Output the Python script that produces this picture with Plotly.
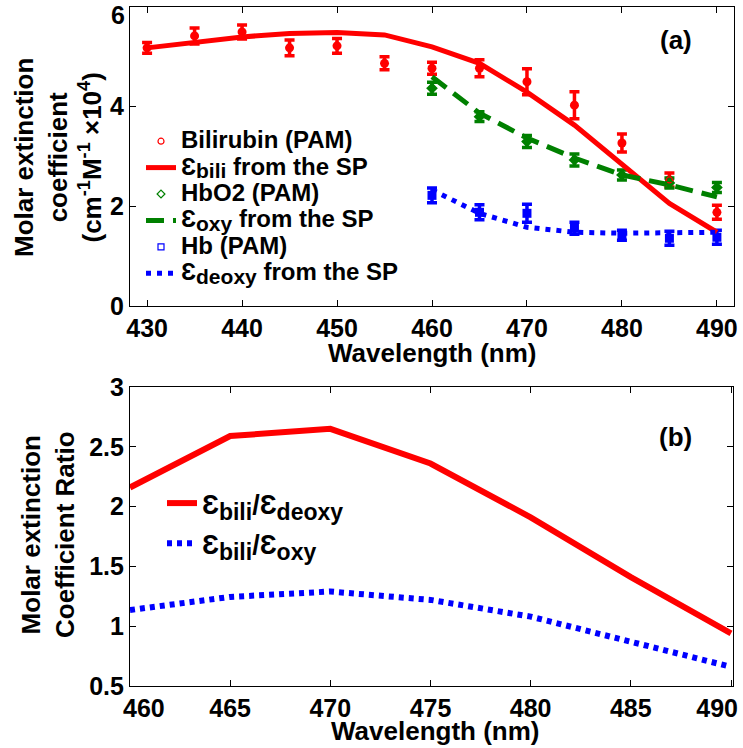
import plotly.graph_objects as go

# ---- panel (a): molar extinction coefficients (x10^4 cm^-1 M^-1) ----
wl_bili = [430, 435, 440, 445, 450, 455, 460, 465, 470, 475, 480, 485, 490]
bili_sp = [5.18, 5.28, 5.40, 5.47, 5.49, 5.44, 5.20, 4.87, 4.29, 3.63, 2.83, 2.06, 1.48]
bili_pam = [5.18, 5.42, 5.50, 5.18, 5.22, 4.87, 4.77, 4.77, 4.50, 4.03, 3.27, 2.53, 1.88]
bili_err = [0.11, 0.16, 0.14, 0.16, 0.15, 0.13, 0.12, 0.17, 0.26, 0.27, 0.18, 0.14, 0.14]

wl_hb = [460, 465, 470, 475, 480, 485, 490]
oxy_sp = [4.60, 3.87, 3.37, 2.97, 2.63, 2.43, 2.19]
oxy_pam = [4.37, 3.80, 3.30, 2.93, 2.63, 2.47, 2.38]
oxy_err = [0.12, 0.10, 0.12, 0.12, 0.10, 0.10, 0.10]
deoxy_sp = [2.33, 1.86, 1.58, 1.48, 1.46, 1.46, 1.48]
deoxy_pam = [2.22, 1.88, 1.86, 1.56, 1.42, 1.36, 1.38]
deoxy_err = [0.15, 0.15, 0.18, 0.12, 0.10, 0.14, 0.14]

# ---- panel (b): coefficient ratios ----
wl_ratio = [460, 465, 470, 475, 480, 485, 490]
ratio_bili_deoxy = [2.16, 2.59, 2.65, 2.36, 1.91, 1.41, 0.94]
ratio_bili_oxy = [1.135, 1.245, 1.29, 1.22, 1.08, 0.87, 0.66]

# tick labels
top_xticks = [430, 440, 450, 460, 470, 480, 490]
top_yticks = [0, 2, 4, 6]
top_ytext = ["0", "2", "4", ""]  # the "6" sits just below the frame top
bot_xticks = [460, 465, 470, 475, 480, 485, 490]
bot_yticks = [0.5, 1, 1.5, 2, 2.5, 3]
FSP = "\u2007"  # figure space, nudges the end labels inward
bot_xtext = [FSP * 2 + "460", "465", "470", "475", "480", "485", "490" + FSP * 2]

RED = "#ff0000"
GREEN = "#008000"
BLUE = "#0000ff"
FONT = "Liberation Sans, Arial, sans-serif"
EPS = "\u0190"


def big(txt, px):
    return f'<span style="font-size:{px}px">{txt}</span>'


def eps_label(sub, rest, px, subpx):
    return big(EPS, px) + "<sub>" + big(sub, subpx) + "</sub>" + big(rest, px)


fig = go.Figure()


def pam(x, y, err, color, symbol):
    # filled markers with error bars
    fig.add_trace(go.Scatter(
        x=x, y=y, mode="markers", showlegend=False,
        marker=dict(color=color, size=9, symbol=symbol),
        error_y=dict(type="data", array=err, color=color, thickness=3.5, width=5),
        xaxis="x", yaxis="y"))


def pam_legend(x, y, name, color, symbol):
    # small open outline on the same points, this one carries the legend entry
    fig.add_trace(go.Scatter(
        x=x, y=y, mode="markers", name=name, legend="legend",
        marker=dict(color=color, size=6, symbol=symbol, line=dict(color=color, width=1.2)),
        hoverinfo="skip", xaxis="x", yaxis="y"))


def sp_line(x, y, color, dash, name):
    fig.add_trace(go.Scatter(
        x=x, y=y, mode="lines", name=name, legend="legend",
        line=dict(color=color, width=5, dash=dash),
        xaxis="x", yaxis="y"))


LP, LS = 24, 21
pam(wl_bili, bili_pam, bili_err, RED, "circle")
pam(wl_hb, oxy_pam, oxy_err, GREEN, "diamond")
pam(wl_hb, deoxy_pam, deoxy_err, BLUE, "square")

pam_legend(wl_bili, bili_pam, big("Bilirubin (PAM)", LP), RED, "circle-open")
sp_line(wl_bili, bili_sp, RED, "solid", eps_label("bili", " from the SP", LP, LS))
pam_legend(wl_hb, oxy_pam, big("HbO2 (PAM)", LP), GREEN, "diamond-open")
sp_line(wl_hb, oxy_sp, GREEN, "18px,9px", eps_label("oxy", " from the SP", LP, LS))
pam_legend(wl_hb, deoxy_pam, big("Hb (PAM)", LP), BLUE, "square-open")
sp_line(wl_hb, deoxy_sp, BLUE, "5px,6px", eps_label("deoxy", " from the SP", LP, LS))

# ratio curves
RP, RS = 27, 23
fig.add_trace(go.Scatter(
    x=wl_ratio, y=ratio_bili_deoxy, mode="lines", legend="legend2",
    name=big(EPS, RP) + "<sub>" + big("bili", RS) + "</sub>" + big("/" + EPS, RP)
    + "<sub>" + big("deoxy", RS) + "</sub>",
    line=dict(color=RED, width=6), xaxis="x2", yaxis="y2"))
fig.add_trace(go.Scatter(
    x=wl_ratio, y=ratio_bili_oxy, mode="lines", legend="legend2",
    name=big(EPS, RP) + "<sub>" + big("bili", RS) + "</sub>" + big("/" + EPS, RP)
    + "<sub>" + big("oxy", RS) + "</sub>",
    line=dict(color=BLUE, width=6, dash="5px,5px"), xaxis="x2", yaxis="y2"))

W, H = 743, 748


def px_x(v):
    return v / W


def px_y(v):
    return 1 - v / H


tickfont = dict(family=FONT, size=25, color="black", weight="bold")
axis_common = dict(showline=True, linecolor="black", linewidth=1.2, mirror="ticks",
                   ticks="inside", ticklen=6, tickcolor="black", showgrid=False,
                   zeroline=False, tickfont=tickfont, ticklabeloverflow="allow")

fig.update_layout(
    width=W, height=H, margin=dict(l=0, r=0, t=0, b=0, autoexpand=False),
    paper_bgcolor="white", plot_bgcolor="white",
    font=dict(family=FONT, color="black"),
    xaxis=dict(domain=[px_x(130), px_x(734)], range=[428.2, 491.8],
               tickvals=top_xticks, anchor="y", **axis_common),
    yaxis=dict(domain=[px_y(306), px_y(7)], range=[0, 6],
               tickvals=top_yticks, ticktext=top_ytext, anchor="x", **axis_common),
    xaxis2=dict(domain=[px_x(130), px_x(733)], range=[460, 490.1],
                tickvals=bot_xticks, ticktext=bot_xtext, anchor="y2", **axis_common),
    yaxis2=dict(domain=[px_y(686), px_y(387)], range=[0.5, 3],
                tickvals=bot_yticks, ticktext=["0.5", "1", "1.5", "2", "2.5", "3"],
                anchor="x2", **axis_common),
    legend=dict(x=px_x(141), y=px_y(123), xanchor="left", yanchor="top",
                bgcolor="rgba(0,0,0,0)", borderwidth=0, tracegroupgap=0,
                font=dict(family=FONT, size=18, color="black", weight="bold")),
    legend2=dict(x=px_x(162), y=px_y(478), xanchor="left", yanchor="top",
                 bgcolor="rgba(0,0,0,0)", borderwidth=0,
                 font=dict(family=FONT, size=28.6, color="black", weight="bold")),
    showlegend=True,
)


def note(x, y, text, **kw):
    params = dict(xref="paper", yref="paper", showarrow=False,
                  xanchor="center", yanchor="middle",
                  font=dict(family=FONT, size=26, color="black", weight="bold"))
    params.update(kw)
    fig.add_annotation(x=px_x(x), y=px_y(y), text=text, **params)


note(432, 353, "Wavelength (nm)")
note(435, 731, "Wavelength (nm)")
note(58, 158, "Molar extinction<br>coefficient<br>(cm<sup>-1</sup>M<sup>-1</sup> \u00d710<sup>4</sup>)",
     textangle=-90)
note(48, 535, "Molar extinction<br>Coefficient Ratio", textangle=-90)
note(676, 40, "(a)")
note(675, 437, "(b)")
# top tick label of the upper y axis
note(127, 15, "6", xanchor="right", font=tickfont)

fig.write_html("out.html")
